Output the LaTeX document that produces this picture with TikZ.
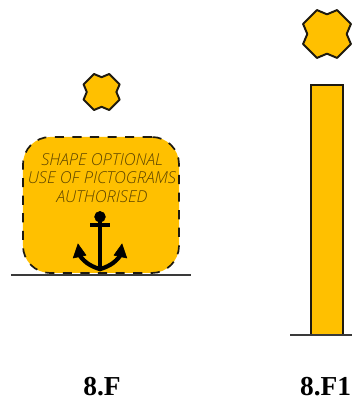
\documentclass[tikz,border=0pt]{standalone}
\usepackage{fontspec}
\usepackage{xcolor}
\setmainfont{Liberation Serif}
\newfontfamily\signfont{Open Sans Light}[ItalicFont={Open Sans Light Italic}]
\definecolor{signYellow}{HTML}{FFC000}
\definecolor{signInk}{HTML}{1E1A10}
\definecolor{signText}{HTML}{5E4500}
\definecolor{signBase}{HTML}{3A3A3A}

\begin{document}
\begin{tikzpicture}[
  signbox/.style={draw=signInk, dashed, dash pattern=on 6.5pt off 6pt, line width=1.2pt,
                  rounded corners=0.68cm, fill=signYellow, minimum width=3.9cm, minimum height=3.4cm},
  polebox/.style={draw=signInk, line width=1pt, fill=signYellow, minimum width=0.8cm, minimum height=6.25cm},
  signlabel/.style={font=\signfont\itshape\fontsize{11.7}{13.2}\selectfont, text=signText, align=center, inner sep=0pt},
  caption/.style={font=\bfseries\fontsize{19.5}{22}\selectfont, anchor=base, inner sep=0pt},
  baseline/.style={draw=signBase, line width=1.4pt},
  anchorink/.style={draw=black, fill=black},
  crossmark/.pic={
    \draw[draw=signInk, line width=1.4pt, line join=round, fill=signYellow]
      (0.19,0.45) -- (0.45,0.19) -- (0.37,0) -- (0.45,-0.19) -- (0.19,-0.45) -- (0,-0.37)
      -- (-0.19,-0.45) -- (-0.45,-0.19) -- (-0.37,0) -- (-0.45,0.19) -- (-0.19,0.45) -- (0,0.37) -- cycle;
  }
]
\useasboundingbox (0,0) rectangle (8.8,9.95);

\pic at (2.54,7.65) {crossmark};
\pic[scale=1.33] at (8.175,9.1) {crossmark};

% left sign
\node[signbox] (sign) at (2.525,4.825) {};
\node[signlabel] (signtext) at (2.55,5.5) {SHAPE OPTIONAL\\USE OF PICTOGRAMS\\AUTHORISED};
\draw[baseline] (0.275,3.075) -- (4.775,3.075);

% anchor
\fill[anchorink] (2.5,4.53) circle (0.135);
\draw[draw=black, line width=3.2pt] (2.5,4.45) -- (2.5,3.2);
\draw[draw=black, line width=2.6pt] (2.26,4.325) -- (2.74,4.325);
\draw[draw=black, line width=3pt] (1.98,3.58) .. controls (2.13,3.35) and (2.35,3.27) .. (2.5,3.22)
  .. controls (2.65,3.27) and (2.87,3.35) .. (3.02,3.58);
\fill[anchorink] (1.95,3.85) -- (1.83,3.5) -- (2.15,3.57) -- cycle;
\fill[anchorink] (3.05,3.85) -- (3.17,3.5) -- (2.85,3.57) -- cycle;

% right sign
\node[polebox] (pole) at (8.175,4.7) {};
\draw[baseline] (7.25,1.575) -- (8.8,1.575);

\node[caption] (capF) at (2.55,0.07) {8.F};
\node[caption] (capFone) at (8.14,0.07) {8.F1};
\end{tikzpicture}
\end{document}
